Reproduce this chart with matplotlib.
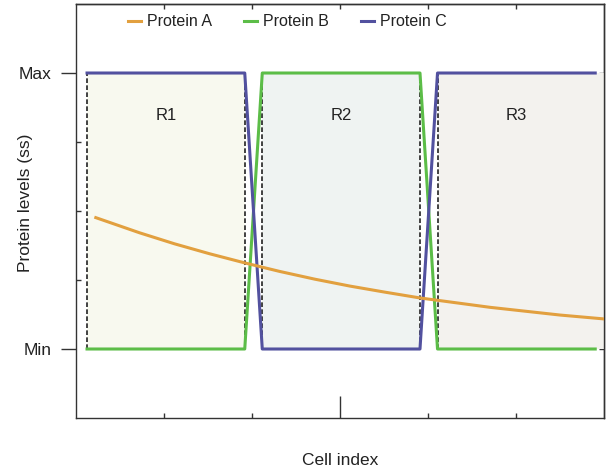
import numpy as np
import matplotlib
matplotlib.use("Agg")
import matplotlib.pyplot as plt

plt.rcParams["font.family"] = ["Liberation Sans", "DejaVu Sans"]

# data
cells = np.arange(1, 31)
protein_b = [0]*10 + [1]*10 + [0]*10
protein_c = [1]*10 + [0]*10 + [1]*10
a_x = [1.5, 4, 6, 8, 10, 12, 14, 16, 18, 20, 22, 24, 26, 28, 30.5]
protein_a = [0.476, 0.421, 0.381, 0.345, 0.312, 0.281, 0.253, 0.228, 0.206, 0.185,
             0.168, 0.151, 0.137, 0.123, 0.109]
region_names = ["R1", "R2", "R3"]
region_start = [1, 11, 21]
region_end = [10, 20, 30.5]
region_label_x = [5.5, 15.5, 25.5]
boundaries = [1, 10, 11, 20, 21]
ytick_labels = ["Min", "Max"]

c_a, c_b, c_c = "#E2A03F", "#5CBD48", "#52519F"
shades = ["#F8F9EF", "#EFF3F2", "#F3F2EE"]
txt = "#222222"

fig = plt.figure(figsize=(6.08, 4.72), dpi=100)
ax = fig.add_axes([0.125, 0.1144, 0.8684, 0.8771])
xmin, xmax = 0.37, 30.5
ax.set_xlim(xmin, xmax)
ax.set_ylim(-0.25, 1.25)

for s, e, col in zip(region_start, region_end, shades):
    ax.fill_between([s, e], 0, 1, color=col, lw=0, zorder=1)
for b in boundaries:
    ax.plot([b, b], [0, 1], color="#222222", lw=1.2, ls=(0, (2.8, 1.4)), zorder=2)
for name, x in zip(region_names, region_label_x):
    ax.text(x, 0.845, name, ha="center", va="center", fontsize=12, color=txt)

ax.plot(a_x, protein_a, color=c_a, lw=2.2, label="Protein A", zorder=4)
ax.plot(cells, protein_b, color=c_b, lw=2.2, label="Protein B", zorder=3)
ax.plot(cells, protein_c, color=c_c, lw=2.2, label="Protein C", zorder=3)

leg = ax.legend(loc="center left", bbox_to_anchor=(0.098, 0.957), ncol=3, frameon=False,
                fontsize=11.5, handlelength=0.8, handletextpad=0.4, columnspacing=2.0,
                borderpad=0, borderaxespad=0)
for t in leg.get_texts():
    t.set_color(txt)

# x ticks
xt = np.linspace(xmin, xmax, 7)[1:-1]
ax.set_xticks([xt[0], xt[1], xt[3], xt[4]])
ax.set_xticks([xt[2]], minor=True)
ax.tick_params(axis="x", which="major", direction="in", length=3.5, width=1, labelbottom=False, color="#333333")
ax.tick_params(axis="x", which="minor", direction="in", length=16, width=1, labelbottom=False, color="#333333")

# y ticks
ax.set_yticks([0, 1])
ax.set_yticklabels(ytick_labels)
ax.set_yticks([0.25, 0.5, 0.75], minor=True)
ax.tick_params(axis="y", which="major", direction="out", length=11, width=1, pad=6.5,
               labelsize=12.5, labelcolor=txt, color="#333333")
ax.tick_params(axis="y", which="minor", direction="in", length=3.5, width=1, color="#333333")

top = ax.secondary_xaxis("top")
top.set_xticks(xt)
top.tick_params(direction="in", length=3.5, width=1, labeltop=False, color="#333333")
right = ax.secondary_yaxis("right")
right.set_yticks([0, 0.25, 0.5, 0.75, 1])
right.tick_params(direction="in", length=3.5, width=1, labelright=False, color="#333333")

for a in (ax, top, right):
    for sp in a.spines.values():
        sp.set_color("#333333")
        sp.set_linewidth(1.0)

ax.set_xlabel("Cell index", fontsize=12.5, color=txt)
ax.xaxis.set_label_coords(0.5, -0.085)
ax.set_ylabel("Protein levels (ss)", fontsize=12.5, color=txt)
ax.yaxis.set_label_coords(-0.082, 0.52)

fig.savefig("out.png", dpi=100)
